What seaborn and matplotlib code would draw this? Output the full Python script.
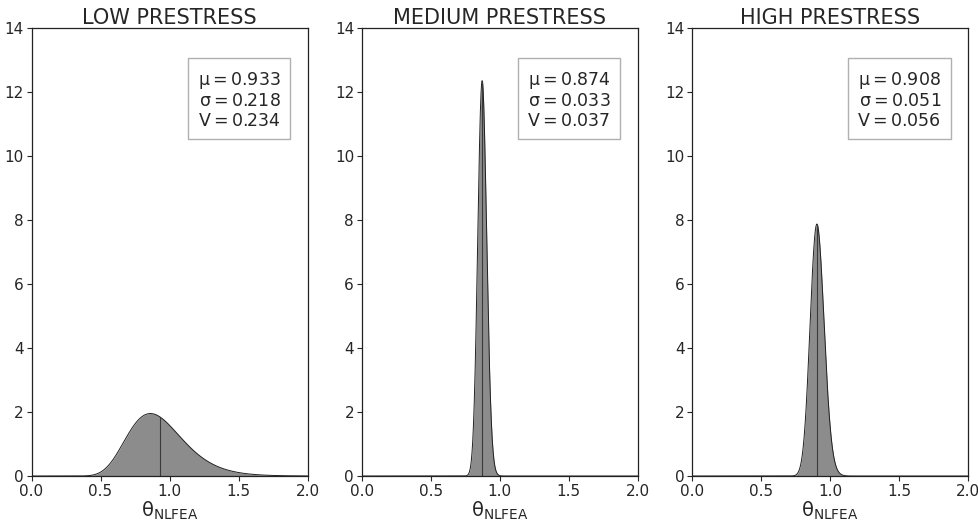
import numpy as np
import pandas as pd
import seaborn as sns
import matplotlib
matplotlib.use("Agg")
import matplotlib.pyplot as plt

# Lognormal model-uncertainty statistics for each prestress level
levels = ["LOW PRESTRESS", "MEDIUM PRESTRESS", "HIGH PRESTRESS"]
means = [0.933, 0.874, 0.908]
stds = [0.218, 0.033, 0.051]
covs = [0.234, 0.037, 0.056]

x_ticks = [0.0, 0.5, 1.0, 1.5, 2.0]
y_ticks = [0, 2, 4, 6, 8, 10, 12, 14]

sns.set_theme(style="ticks")
plt.rcParams["font.family"] = ["DejaVu Sans"]
plt.rcParams["mathtext.default"] = "regular"
plt.rcParams["axes.edgecolor"] = "#222222"
plt.rcParams["axes.linewidth"] = 0.9

fig = plt.figure(figsize=(9.79, 5.22), dpi=100)
lefts = [0.0322, 0.3695, 0.7070]
width = 0.282
bottom = 0.0881
height = 0.858

x = np.linspace(0.001, 2.0, 2000)


def lognormal_pdf(xv, mean, cov):
    s2 = np.log(1.0 + cov ** 2)
    m = np.log(mean) - 0.5 * s2
    return np.exp(-(np.log(xv) - m) ** 2 / (2 * s2)) / (xv * np.sqrt(2 * np.pi * s2))


for i, (title, mu, sd, v) in enumerate(zip(levels, means, stds, covs)):
    ax = fig.add_axes([lefts[i], bottom, width, height])
    pdf = lognormal_pdf(x, mu, v)
    df = pd.DataFrame({"theta": x, "density": pdf})
    ax.fill_between(df["theta"], df["density"], color="#8c8c8c", linewidth=0)
    sns.lineplot(data=df, x="theta", y="density", ax=ax, color="#202020",
                 linewidth=0.7)
    ax.vlines(mu, 0, lognormal_pdf(np.array([mu]), mu, v)[0],
              color="#3a3a3a", linewidth=0.8)

    ax.set_xlim(0.0, 2.0)
    ax.set_ylim(0, 14)
    ax.set_xticks(x_ticks)
    ax.set_xticklabels([f"{t:.1f}" for t in x_ticks])
    ax.set_yticks(y_ticks)
    ax.tick_params(labelsize=11, length=3.5, width=0.8, pad=2)
    ax.set_title(title, fontsize=15, pad=3)
    ax.set_xlabel(r"$\theta_{NLFEA}$", fontsize=14, labelpad=1)
    ax.set_ylabel("")

    label = f"$\\mu = {mu:.3f}$\n$\\sigma = {sd:.3f}$\n$V = {v:.3f}$"
    ax.text(0.902, 0.907, label, transform=ax.transAxes, ha="right", va="top",
            fontsize=12.5, linespacing=1.1,
            bbox=dict(boxstyle="square,pad=0.55", facecolor="white",
                      edgecolor="#b0b0b0", linewidth=1.0))

fig.savefig("out.png", dpi=100)
